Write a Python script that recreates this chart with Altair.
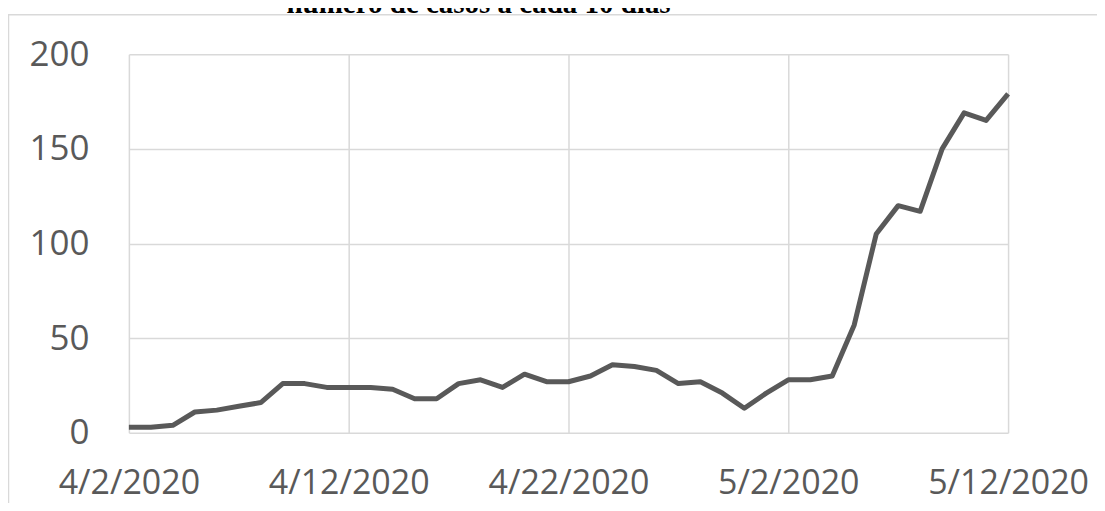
import altair as alt
import pandas as pd

dates = pd.date_range("2020-04-02", "2020-05-12", freq="D").strftime("%Y-%m-%d").tolist()
cases = [3, 3, 4, 11, 12, 14, 16, 26, 26, 24,
         24, 24, 23, 18, 18, 26, 28, 24, 31, 27,
         27, 30, 36, 35, 33, 26, 27, 21, 13, 21,
         28, 28, 30, 57, 105, 120, 117, 150, 169, 165,
         179]
tick_dates = ["2020-04-02", "2020-04-12", "2020-04-22", "2020-05-02", "2020-05-12"]
y_ticks = [0, 50, 100, 150, 200]
title_text = ["número de casos a cada 10 dias"]

df = pd.DataFrame({"date": dates, "cases": cases})

def dt(s):
    y, m, d = map(int, s.split("-"))
    return alt.DateTime(year=y, month=m, date=d, utc=True)

GRID = "#d9d9d9"
TXT = "#595959"

line = alt.Chart(df).mark_line(color=TXT, strokeWidth=5, strokeJoin="round", strokeCap="butt").encode(
    x=alt.X("date:T",
            scale=alt.Scale(type="utc", domain=[dt(dates[0]), dt(dates[-1])]),
            axis=alt.Axis(values=[dt(s) for s in tick_dates],
                          labelExpr="utcFormat(datum.value, '%-m/%-d/%Y')",
                          title=None, grid=True, gridColor=GRID, gridWidth=1.5, domain=False, ticks=False,
                          labelFontSize=34, labelFont="Open Sans", labelColor=TXT, labelPadding=34,
                          labelFlush=False, labelOverlap=False)),
    y=alt.Y("cases:Q",
            scale=alt.Scale(domain=[0, 200], nice=False),
            axis=alt.Axis(values=y_ticks, title=None, grid=True, gridColor=GRID, gridWidth=1.5,
                          domain=False, ticks=False, labelFontSize=35, labelFont="Open Sans",
                          labelColor=TXT, labelPadding=40)),
)

title = alt.Chart(pd.DataFrame({"t": title_text})).mark_text(
    font="Liberation Serif", fontWeight="bold", fontSize=29, color="black",
    align="center", baseline="alphabetic"
).encode(text="t:N", x=alt.value(350), y=alt.value(-41.5))

border_top = alt.Chart(pd.DataFrame({"t": title_text})).mark_rule(color=GRID, strokeWidth=1.5).encode(
    x=alt.value(-121), x2=alt.value(1010), y=alt.value(-39.5))
border_left = alt.Chart(pd.DataFrame({"t": title_text})).mark_rule(color=GRID, strokeWidth=1.5).encode(
    x=alt.value(-120.5), y=alt.value(-39.5), y2=alt.value(460))

chart = alt.layer(border_top, border_left, line, title).properties(
    width=880, height=379,
    autosize=alt.AutoSizeParams(type="none"),
    padding={"left": 121, "top": 46, "right": 89, "bottom": 70},
    background="white",
).configure_view(stroke=None)

chart.save("out.html", embed_options={"renderer": "svg", "actions": False})
